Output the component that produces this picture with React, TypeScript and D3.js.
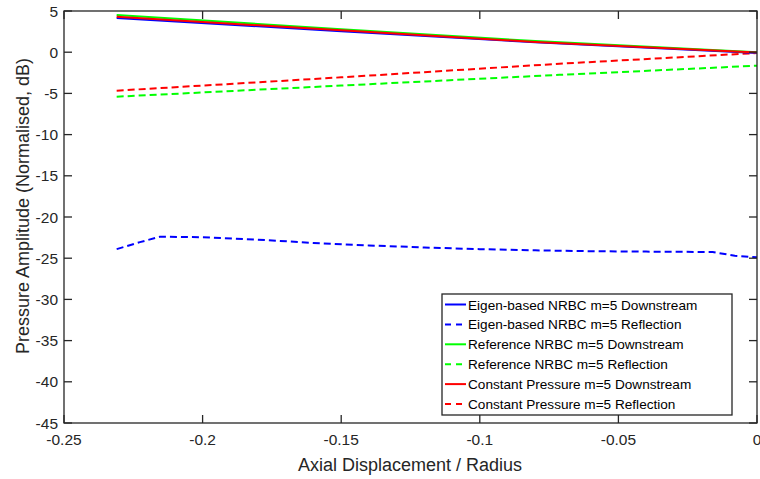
import React from "react";
import * as d3 from "d3";

const xTicks = [-0.25, -0.2, -0.15, -0.1, -0.05, 0];
const yTicks = [5, 0, -5, -10, -15, -20, -25, -30, -35, -40, -45];

const xSolid = [-0.231, -0.15, -0.08, 0];
const eigenDown = [4.15, 2.55, 1.2, -0.1];
const refDown = [4.5, 2.8, 1.35, 0];
const constDown = [4.3, 2.65, 1.25, -0.05];

const xEigenRefl = [-0.231, -0.2226, -0.2154, -0.2, -0.18, -0.16, -0.14, -0.12, -0.1, -0.08, -0.06, -0.04, -0.016, -0.008, 0];
const eigenRefl = [-23.9, -23.05, -22.4, -22.45, -22.75, -23.15, -23.45, -23.7, -23.9, -24.05, -24.15, -24.2, -24.25, -24.7, -24.9];

const xRefl = [-0.231, -0.15, -0.0713, 0];
const refRefl = [-5.4, -4.05, -2.75, -1.64];
const constRefl = [-4.67, -3.05, -1.4, -0.1];

const legendNames = [
  "Eigen-based NRBC m=5 Downstream",
  "Eigen-based NRBC m=5 Reflection",
  "Reference NRBC m=5 Downstream",
  "Reference NRBC m=5 Reflection",
  "Constant Pressure m=5 Downstream",
  "Constant Pressure m=5 Reflection",
];

export default function App() {
  const W = 760, H = 479;
  const left = 64, right = 757, top = 11, bottom = 423;
  const x = d3.scaleLinear().domain([-0.25, 0]).range([left, right]);
  const y = d3.scaleLinear().domain([-45, 5]).range([bottom, top]);
  const axisColor = "#262626";
  const font = "Liberation Sans, Arial, sans-serif";

  const mk = (xs: number[], ys: number[]) =>
    d3.line<number>().x((_, i) => x(xs[i])).y((v) => y(v))(ys) || "";

  const series = [
    { d: mk(xEigenRefl, eigenRefl), c: "#0000ff", dash: true },
    { d: mk(xRefl, refRefl), c: "#00ff00", dash: true },
    { d: mk(xRefl, constRefl), c: "#ff0000", dash: true },
    { d: mk(xSolid, eigenDown), c: "#0000ff", dash: false },
    { d: mk(xSolid, refDown), c: "#00ff00", dash: false },
    { d: mk(xSolid, constDown), c: "#ff0000", dash: false },
  ];
  const legendItems = [
    { c: "#0000ff", dash: false },
    { c: "#0000ff", dash: true },
    { c: "#00ff00", dash: false },
    { c: "#00ff00", dash: true },
    { c: "#ff0000", dash: false },
    { c: "#ff0000", dash: true },
  ];
  const tl = 8;
  const lg = { x: 442, y: 294, w: 290, h: 121 };

  return (
    <svg width={W} height={H} style={{ position: "absolute", left: 0, top: 0 }} fontFamily={font}>
      <rect x={0} y={0} width={W} height={H} fill="#fff" />
      <defs>
        <clipPath id="clip">
          <rect x={left} y={top} width={right - left} height={bottom - top} />
        </clipPath>
      </defs>
      <g clipPath="url(#clip)">
        {series.map((s, i) => (
          <path key={i} d={s.d} fill="none" stroke={s.c} strokeWidth={2}
            strokeDasharray={s.dash ? "7,4" : undefined} />
        ))}
      </g>
      <rect x={left} y={top} width={right - left} height={bottom - top} fill="none" stroke={axisColor} strokeWidth={1.3} />
      {xTicks.map((t) => (
        <g key={"x" + t}>
          <line x1={x(t)} x2={x(t)} y1={bottom} y2={bottom - tl} stroke={axisColor} strokeWidth={1.3} />
          <line x1={x(t)} x2={x(t)} y1={top} y2={top + tl} stroke={axisColor} strokeWidth={1.3} />
          <text x={x(t)} y={bottom + 22} textAnchor="middle" fontSize={15.5} fill={axisColor}>{t === 0 ? "0" : String(t)}</text>
        </g>
      ))}
      {yTicks.map((t) => (
        <g key={"y" + t}>
          <line x1={left} x2={left + tl} y1={y(t)} y2={y(t)} stroke={axisColor} strokeWidth={1.3} />
          <line x1={right} x2={right - tl} y1={y(t)} y2={y(t)} stroke={axisColor} strokeWidth={1.3} />
          <text x={left - 6} y={y(t) + 5.5} textAnchor="end" fontSize={15.5} fill={axisColor}>{String(t)}</text>
        </g>
      ))}
      <text x={410} y={471} textAnchor="middle" fontSize={18} fill={axisColor}>Axial Displacement / Radius</text>
      <text transform={`translate(29,206) rotate(-90)`} textAnchor="middle" fontSize={18} fill={axisColor}>Pressure Amplitude (Normalised, dB)</text>
      <rect x={lg.x} y={lg.y} width={lg.w} height={lg.h} fill="#fff" stroke={axisColor} strokeWidth={1.3} />
      {legendNames.map((n, i) => {
        const cy = lg.y + 10.5 + i * 19.9;
        return (
          <g key={n}>
            <line x1={445} x2={466} y1={cy} y2={cy} stroke={legendItems[i].c} strokeWidth={2}
              strokeDasharray={legendItems[i].dash ? "6,5" : undefined} />
            <text x={468} y={cy + 5} fontSize={13.6} fill="#000">{n}</text>
          </g>
        );
      })}
    </svg>
  );
}
